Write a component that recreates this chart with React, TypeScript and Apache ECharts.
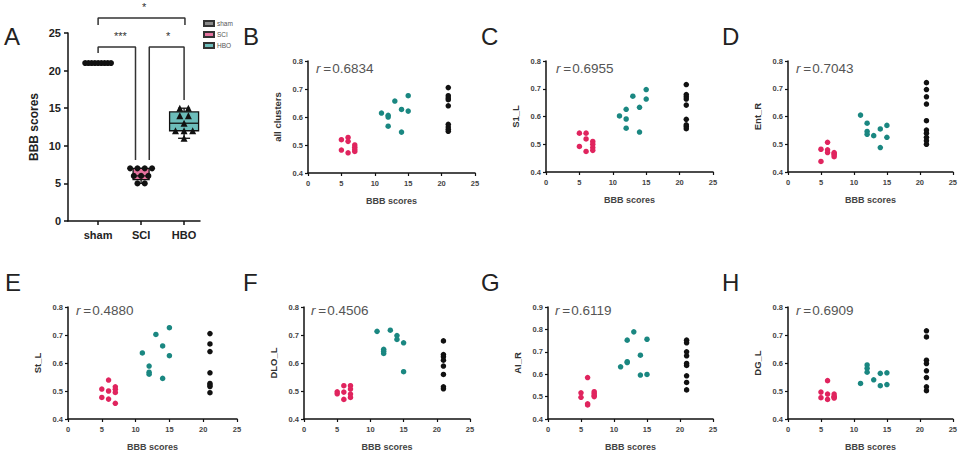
import React, { useEffect, useRef } from "react";
import * as echarts from "echarts";

// ---------- Panel A data (BBB scores per group) ----------
const groupNames = ["sham", "SCI", "HBO"];
const bbbSham = [21, 21, 21, 21, 21, 21, 21, 21, 21];
const bbbSCI = [5, 5, 6, 6, 6, 7, 7, 7, 7];
const bbbHBO = [11, 12, 12, 12, 13, 14, 14, 15, 15];

// ---------- Correlation panels ----------
const panelLetters = ["B", "C", "D", "E", "F", "G", "H"];
const panelYNames = ["all clusters", "S1_L", "Ent_R", "St_L", "DLO_L", "AI_R", "DG_L"];
const panelR = ["0.6834", "0.6955", "0.7043", "0.4880", "0.4506", "0.6119", "0.6909"];
const panelYMax = [0.8, 0.8, 0.8, 0.8, 0.8, 0.9, 0.8];
const xTicksMax = 25;

const shamB = [0.705, 0.676, 0.668, 0.662, 0.64, 0.574, 0.564, 0.556, 0.549];
const sciB = [0.519, 0.482, 0.527, 0.513, 0.472, 0.5, 0.492, 0.484, 0.477];
const hboB = [0.614, 0.606, 0.6, 0.567, 0.657, 0.627, 0.546, 0.676, 0.621];

const shamC = [0.715, 0.679, 0.671, 0.663, 0.641, 0.59, 0.57, 0.564, 0.556];
const sciC = [0.54, 0.492, 0.54, 0.519, 0.474, 0.51, 0.5, 0.488, 0.478];
const hboC = [0.602, 0.626, 0.591, 0.558, 0.673, 0.633, 0.544, 0.697, 0.663];

const shamD = [0.722, 0.697, 0.671, 0.645, 0.585, 0.551, 0.54, 0.525, 0.513, 0.5];
const sciD = [0.482, 0.438, 0.507, 0.48, 0.47, 0.466, 0.47, 0.462, 0.455];
const hboD = [0.605, 0.576, 0.546, 0.536, 0.531, 0.555, 0.488, 0.568, 0.525];

const shamE = [0.705, 0.668, 0.641, 0.565, 0.527, 0.521, 0.516, 0.494];
const sciE = [0.507, 0.477, 0.539, 0.5, 0.471, 0.515, 0.506, 0.495, 0.456];
const hboE = [0.636, 0.589, 0.567, 0.56, 0.702, 0.661, 0.545, 0.726, 0.626];

const shamF = [0.679, 0.63, 0.622, 0.61, 0.589, 0.559, 0.515, 0.508];
const sciF = [0.497, 0.49, 0.519, 0.496, 0.47, 0.519, 0.507, 0.489, 0.477];
const hboF = [0.713, 0.649, 0.642, 0.634, 0.717, 0.698, 0.684, 0.672, 0.569];

const shamG = [0.752, 0.74, 0.7, 0.682, 0.648, 0.639, 0.593, 0.563, 0.53];
const sciG = [0.517, 0.497, 0.585, 0.468, 0.463, 0.522, 0.514, 0.505, 0.5];
const hboG = [0.633, 0.752, 0.656, 0.652, 0.789, 0.685, 0.596, 0.756, 0.599];

const shamH = [0.715, 0.693, 0.61, 0.598, 0.572, 0.548, 0.515, 0.501];
const sciH = [0.496, 0.476, 0.537, 0.489, 0.47, 0.489, 0.481, 0.475, 0.478];
const hboH = [0.527, 0.593, 0.581, 0.567, 0.54, 0.563, 0.519, 0.565, 0.523];

const panelSham = [shamB, shamC, shamD, shamE, shamF, shamG, shamH];
const panelSCI = [sciB, sciC, sciD, sciE, sciF, sciG, sciH];
const panelHBO = [hboB, hboC, hboD, hboE, hboF, hboG, hboH];

// significance annotations (data coordinates of panel A)
const bracketShamHBO = [[1, 26.06], [1, 27.0], [3.02, 27.0], [3.02, 26.06]];
const bracketShamSCI = [[1, 22.34], [1, 23.14], [1.87, 23.14], [1.87, 8.11]];
const bracketSCIHBO = [[2.19, 8.11], [2.19, 23.14], [3, 23.14], [3, 16.09]];
const sigLabels = [[2.07, 28.5, "*"], [1.52, 24.6, "***"], [2.63, 24.6, "*"]];

// ---------- styles / layout ----------
const FONT = "Liberation Sans, Arial, sans-serif";
const colSham = "#111111";
const colSCI = "#e0245e";
const colHBO = "#1a8781";
const boxFill = ["#8a8a8a", "#e5739f", "#6cbcba"];
const boxWidthPx = [26, 16, 29];
const swarmStep = [0.075, 0.17, 0.2];

const gridA = { left: 68, top: 33, width: 132, height: 188 };
const panelGrids = [
  { left: 308, top: 61, width: 167, height: 112 },
  { left: 546, top: 61, width: 167, height: 111 },
  { left: 788, top: 61, width: 167, height: 111 },
  { left: 68, top: 307, width: 169, height: 112 },
  { left: 304, top: 307, width: 166, height: 112 },
  { left: 548, top: 307, width: 165, height: 112 },
  { left: 788, top: 307, width: 166, height: 112 },
];
const letterPos = [
  ["A", 4, 36], ["B", 243, 36], ["C", 481, 36], ["D", 722, 36],
  ["E", 5, 282], ["F", 243, 282], ["G", 481, 282], ["H", 722, 282],
];
const rPos = [[316, 61], [556, 61], [796, 61], [76, 303], [311, 303], [555, 303], [796, 303]];

function quantile(vals: number[], p: number) {
  const s = [...vals].sort((a, b) => a - b);
  const n = s.length;
  const pos = (n + 1) * p;
  const lo = Math.floor(pos);
  const frac = pos - lo;
  if (lo < 1) return s[0];
  if (lo >= n) return s[n - 1];
  return s[lo - 1] + frac * (s[lo] - s[lo - 1]);
}

function swarm(vals: number[], center: number, step: number) {
  const counts: Record<string, number> = {};
  vals.forEach((v) => (counts[v] = (counts[v] || 0) + 1));
  const seen: Record<string, number> = {};
  return vals.map((v) => {
    const k = counts[v];
    const i = seen[v] || 0;
    seen[v] = i + 1;
    return [center + (i - (k - 1) / 2) * step, v];
  });
}

function buildOption() {
  const groups = [bbbSham, bbbSCI, bbbHBO];
  const grids: any[] = [gridA, ...panelGrids];
  const xAxes: any[] = [];
  const yAxes: any[] = [];
  const series: any[] = [];

  const axisLineStyle = { lineStyle: { color: "#111", width: 1.5 } };

  xAxes.push({
    gridIndex: 0,
    type: "value",
    min: 0.3,
    max: 3.37,
    splitLine: { show: false },
    axisLine: axisLineStyle,
    axisTick: { customValues: [1, 2, 3], length: 4, lineStyle: { color: "#111", width: 1.5 } },
    axisLabel: {
      customValues: [1, 2, 3],
      formatter: (v: number) => groupNames[Math.round(v) - 1] || "",
      fontSize: 11,
      fontWeight: "bold",
      color: "#222",
      fontFamily: FONT,
      margin: 8,
    },
  });
  yAxes.push({
    gridIndex: 0,
    type: "value",
    min: 0,
    max: 25,
    interval: 5,
    splitLine: { show: false },
    axisLine: { show: true, ...axisLineStyle },
    axisTick: { show: true, length: 4, lineStyle: { color: "#111", width: 1.5 } },
    axisLabel: { fontSize: 11, fontWeight: "bold", color: "#222", fontFamily: FONT, margin: 7 },
    name: "BBB scores",
    nameLocation: "middle",
    nameGap: 28,
    nameTextStyle: { fontSize: 12, fontWeight: "bold", color: "#222", fontFamily: FONT },
  });

  // box plots
  groups.forEach((vals, gi) => {
    const stats = [gi + 1, Math.min(...vals), quantile(vals, 0.25), quantile(vals, 0.5), quantile(vals, 0.75), Math.max(...vals)];
    const w = boxWidthPx[gi];
    series.push({
      type: "custom",
      name: groupNames[gi],
      xAxisIndex: 0,
      yAxisIndex: 0,
      itemStyle: { color: boxFill[gi], borderColor: "#333", borderWidth: 0.6 },
      data: gi === 0 ? [] : [stats],
      renderItem: (params: any, api: any) => {
        const x = api.value(0);
        const pLo = api.coord([x, api.value(1)]);
        const pQ1 = api.coord([x, api.value(2)]);
        const pMed = api.coord([x, api.value(3)]);
        const pQ3 = api.coord([x, api.value(4)]);
        const pHi = api.coord([x, api.value(5)]);
        const cx = pMed[0];
        const half = w / 2;
        const cap = 6;
        const ls = { stroke: "#111", lineWidth: 1.3 };
        return {
          type: "group",
          children: [
            { type: "line", shape: { x1: cx, y1: pHi[1], x2: cx, y2: pQ3[1] }, style: ls },
            { type: "line", shape: { x1: cx, y1: pQ1[1], x2: cx, y2: pLo[1] }, style: ls },
            { type: "line", shape: { x1: cx - cap, y1: pHi[1], x2: cx + cap, y2: pHi[1] }, style: ls },
            { type: "line", shape: { x1: cx - cap, y1: pLo[1], x2: cx + cap, y2: pLo[1] }, style: ls },
            {
              type: "rect",
              shape: { x: cx - half, y: pQ3[1], width: w, height: pQ1[1] - pQ3[1] },
              style: { fill: boxFill[gi], stroke: "#111", lineWidth: 1.3 },
            },
            { type: "line", shape: { x1: cx - half, y1: pMed[1], x2: cx + half, y2: pMed[1] }, style: ls },
          ],
        };
      },
      z: 2,
    });
  });

  // swarm points in A
  const symbolsA = ["circle", "circle", "triangle"];
  groups.forEach((vals, gi) => {
    series.push({
      type: "scatter",
      xAxisIndex: 0,
      yAxisIndex: 0,
      symbol: symbolsA[gi],
      symbolSize: gi === 2 ? 7 : 6,
      itemStyle: { color: "#111", opacity: 1 },
      data: swarm(vals, gi + 1, swarmStep[gi]),
      z: 5,
    });
  });

  // brackets
  [bracketShamHBO, bracketShamSCI, bracketSCIHBO].forEach((b) => {
    series.push({
      type: "line",
      xAxisIndex: 0,
      yAxisIndex: 0,
      data: b,
      symbol: "none",
      clip: false,
      itemStyle: { color: "#333" },
      lineStyle: { color: "#333", width: 1.5 },
      z: 3,
    });
  });
  series.push({
    type: "custom",
    xAxisIndex: 0,
    yAxisIndex: 0,
    clip: false,
    itemStyle: { color: "#333" },
    data: sigLabels,
    renderItem: (params: any, api: any) => {
      const p = api.coord([api.value(0), api.value(1)]);
      return {
        type: "text",
        x: p[0],
        y: p[1],
        style: {
          text: sigLabels[params.dataIndex][2],
          fontSize: 11,
          fill: "#333",
          fontFamily: FONT,
          align: "center",
          verticalAlign: "middle",
        },
      };
    },
  });

  // correlation panels
  panelGrids.forEach((g, pi) => {
    const gi = pi + 1;
    xAxes.push({
      gridIndex: gi,
      type: "value",
      min: 0,
      max: xTicksMax,
      interval: 5,
      splitLine: { show: false },
      axisLine: { lineStyle: { color: "#111", width: 1.5 } },
      axisTick: { length: 3, lineStyle: { color: "#111", width: 1.2 } },
      axisLabel: { fontSize: 7.5, fontWeight: "bold", color: "#444", fontFamily: FONT, margin: 6 },
      name: "BBB scores",
      nameLocation: "middle",
      nameGap: 23,
      nameTextStyle: { fontSize: 9, fontWeight: "bold", color: "#444", fontFamily: FONT },
    });
    yAxes.push({
      gridIndex: gi,
      type: "value",
      min: 0.4,
      max: panelYMax[pi],
      interval: 0.1,
      splitLine: { show: false },
      axisLine: { show: true, lineStyle: { color: "#111", width: 1.5 } },
      axisTick: { show: true, length: 3, lineStyle: { color: "#111", width: 1.2 } },
      axisLabel: {
        fontSize: 7.5,
        fontWeight: "bold",
        color: "#444",
        fontFamily: FONT,
        margin: 5,
        formatter: (v: number) => v.toFixed(1),
      },
      name: panelYNames[pi],
      nameLocation: "middle",
      nameGap: 26,
      nameTextStyle: { fontSize: 9.5, fontWeight: "bold", color: "#333", fontFamily: FONT },
    });
    const sets = [
      { x: bbbSCI, y: panelSCI[pi], c: colSCI },
      { x: bbbHBO, y: panelHBO[pi], c: colHBO },
      { x: panelSham[pi].map(() => bbbSham[0]), y: panelSham[pi], c: colSham },
    ];
    sets.forEach((s) => {
      series.push({
        type: "scatter",
        xAxisIndex: gi,
        yAxisIndex: gi,
        symbolSize: 5.5,
        itemStyle: { color: s.c, opacity: 1 },
        data: s.y.map((v, i) => [s.x[i], v]),
      });
    });
  });

  const titles = panelR.map((r, i) => ({
    left: rPos[i][0],
    top: rPos[i][1],
    text: `{i|r}{n|\u2009=\u200a${r}}`,
    textStyle: {
      fontWeight: "normal",
      rich: {
        i: { fontSize: 13.5, fontStyle: "italic", fontWeight: "normal", color: "#555", fontFamily: FONT },
        n: { fontSize: 13.5, fontWeight: "normal", color: "#555", fontFamily: FONT },
      },
    },
    padding: 0,
  }));

  const graphics = letterPos.map(([t, x, y]) => ({
    type: "text",
    left: x,
    top: (y as number) - 12,
    style: { text: t, fontSize: 24, fill: "#222", fontFamily: FONT },
  }));

  return {
    animation: false,
    backgroundColor: "#ffffff",
    title: titles,
    legend: {
      data: groupNames,
      orient: "vertical",
      left: 203,
      top: 20,
      icon: "rect",
      itemWidth: 10,
      itemHeight: 5,
      itemGap: 4,
      padding: 0,
      textStyle: { fontSize: 6.5, color: "#555", fontFamily: FONT, padding: [0, 0, 0, -2] },
    },
    grid: grids,
    xAxis: xAxes,
    yAxis: yAxes,
    series,
    graphic: graphics,
  };
}

export default function App() {
  const ref = useRef<HTMLDivElement>(null);
  useEffect(() => {
    if (!ref.current) return;
    const chart = echarts.init(ref.current, undefined, { renderer: "svg" });
    chart.setOption(buildOption() as any);
    return () => chart.dispose();
  }, []);
  return (
    <div
      ref={ref}
      style={{ position: "absolute", left: 0, top: 0, width: 960, height: 453, background: "#fff" }}
    />
  );
}
